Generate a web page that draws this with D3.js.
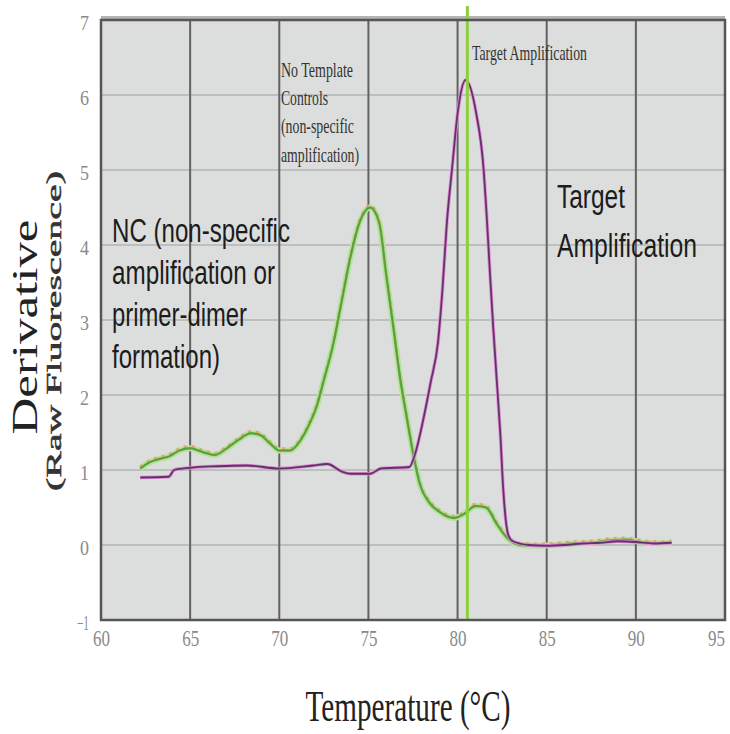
<!DOCTYPE html>
<html>
<head>
<meta charset="utf-8">
<script src="https://cdn.jsdelivr.net/npm/d3@7"></script>
<style>
  body { margin: 0; background: #ffffff; }
  svg  { display: block; }
  .serif { font-family: 'Liberation Serif', 'Times New Roman', serif; }
  .sans  { font-family: 'Liberation Sans', Arial, sans-serif; }
</style>
</head>
<body>
<div id="graph"></div>
<script>
//
// Data read off the melt curve picture...
//
var xTickValues = [60, 65, 70, 75, 80, 85, 90, 95];
var yTickValues = [-1, 0, 1, 2, 3, 4, 5, 6, 7];
var xGridValues = [65, 70, 75, 80, 85, 90];
var yGridValues = [0, 1, 2, 3, 4, 5, 6];
var markerTemp  = 80.55;

// No template controls (green traces)
var ntcTemp  = [62.2, 62.7, 63.3, 63.8, 64.4, 65.0, 65.7, 66.4, 67.0, 67.7,
                68.4, 68.9, 69.5, 70.0, 70.6, 71.2, 71.7, 72.1, 72.5, 73.0,
                73.5, 74.0, 74.5, 75.1, 75.6, 76.0, 76.4, 76.8, 77.15, 77.5,
                77.9, 78.4, 79.0, 79.8, 80.4, 81.0, 81.6, 82.2, 82.8, 83.5,
                84.5, 85.5, 86.5, 87.5, 88.5, 89.5, 90.5, 91.5, 92.0];
var ntcDeriv = [1.02, 1.10, 1.15, 1.18, 1.26, 1.29, 1.24, 1.20, 1.28, 1.40,
                1.49, 1.47, 1.35, 1.26, 1.26, 1.40, 1.62, 1.85, 2.20, 2.65,
                3.25, 3.85, 4.30, 4.50, 4.30, 3.60, 2.90, 2.19, 1.70, 1.23,
                0.80, 0.57, 0.44, 0.36, 0.42, 0.52, 0.50, 0.28, 0.09, 0.00,
                -0.01, 0.00, 0.02, 0.03, 0.06, 0.07, 0.03, 0.02, 0.03];

// Target amplification (purple traces)
var targetTemp  = [62.2, 63.8, 64.1, 65.0, 66.5, 68.2, 70.0, 71.9, 72.7, 73.5,
                   74.0, 75.1, 75.7, 77.3, 77.6, 78.1, 78.5, 78.9, 79.15, 79.4,
                   79.7, 80.0, 80.45, 81.05, 81.45, 81.65, 81.82, 82.0, 82.2, 82.4,
                   82.56, 82.85, 83.1, 84.0, 85.0, 86.0, 87.0, 88.0, 89.0, 90.0,
                   91.0, 92.0];
var targetDeriv = [0.90, 0.91, 1.00, 1.03, 1.05, 1.06, 1.02, 1.06, 1.08, 0.98,
                   0.95, 0.95, 1.02, 1.04, 1.20, 1.70, 2.18, 2.70, 3.40, 4.30,
                   5.04, 5.75, 6.20, 5.75, 5.04, 4.32, 3.61, 2.90, 2.19, 1.47,
                   0.75, 0.13, 0.05, 0.00, -0.01, 0.00, 0.02, 0.03, 0.05, 0.04,
                   0.02, 0.03];

var ntcLabel    = ['NC (non-specific', 'amplification or', 'primer-dimer', 'formation)'];
var targetLabel = ['Target', 'Amplification'];
var ntcNote     = ['No Template', 'Controls', '(non-specific', 'amplification)'];


function D3SVGApp ()
{
    var margin = { top: 20, right: 5, bottom: 114, left: 101 };
    var width  = 730 - margin.left - margin.right;
    var height = 734 - margin.top  - margin.bottom;

    var xScale = d3.scaleLinear ()
                   .domain ([60, 95])
                   .range ([0, width]);

    var yScale = d3.scaleLinear ()
                   .domain ([-1, 7])
                   .range ([height, 0]);

    var ntcData    = ntcTemp.map (function (t, i) { return { t: t, d: ntcDeriv[i] }; });
    var targetData = targetTemp.map (function (t, i) { return { t: t, d: targetDeriv[i] }; });

    var curve = d3.line ()
                  .x (function (d) { return xScale (d.t); })
                  .y (function (d) { return yScale (d.d); })
                  .curve (d3.curveMonotoneX);

    var svg = d3.select ('div#graph')
                .append ('svg')
                .attr ('width', 730)
                .attr ('height', 734)
                .append ('g')
                .attr ('transform', 'translate(' + margin.left + ',' + margin.top + ')');

    // plot background
    svg.append ('rect')
       .attr ('x', 0).attr ('y', -4)
       .attr ('width', width).attr ('height', 4)
       .attr ('fill', '#b4b4b4');

    svg.append ('rect')
       .attr ('width', width)
       .attr ('height', height)
       .attr ('fill', '#dcdedd');

    // grid lines
    svg.append ('g')
       .selectAll ('line')
       .data (yGridValues)
       .enter ()
       .append ('line')
       .attr ('x1', 0).attr ('x2', width)
       .attr ('y1', function (d) { return yScale (d); })
       .attr ('y2', function (d) { return yScale (d); })
       .attr ('stroke', '#b3b5b4')
       .attr ('stroke-width', 1.6);

    svg.append ('g')
       .selectAll ('line')
       .data (xGridValues)
       .enter ()
       .append ('line')
       .attr ('x1', function (d) { return xScale (d); })
       .attr ('x2', function (d) { return xScale (d); })
       .attr ('y1', 0).attr ('y2', height)
       .attr ('stroke', '#616161')
       .attr ('stroke-width', 2);

    // no template control traces
    svg.append ('path').datum (ntcData)
       .attr ('d', curve)
       .attr ('fill', 'none')
       .attr ('stroke', '#b3e49a')
       .attr ('stroke-width', 6);

    svg.append ('path').datum (ntcData)
       .attr ('d', curve)
       .attr ('fill', 'none')
       .attr ('stroke', '#e7a46c')
       .attr ('stroke-width', 2.5)
       .attr ('stroke-dasharray', '3,5')
       .attr ('transform', 'translate(0,-2)');

    svg.append ('path').datum (ntcData)
       .attr ('d', curve)
       .attr ('fill', 'none')
       .attr ('stroke', '#5aae48')
       .attr ('stroke-width', 2.4);

    svg.append ('path').datum (ntcData)
       .attr ('d', curve)
       .attr ('fill', 'none')
       .attr ('stroke', '#6f8f3e')
       .attr ('stroke-width', 1);

    // target traces
    svg.append ('path').datum (targetData)
       .attr ('d', curve)
       .attr ('fill', 'none')
       .attr ('stroke', '#e58bd6')
       .attr ('stroke-width', 3.5);

    svg.append ('path').datum (targetData)
       .attr ('d', curve)
       .attr ('fill', 'none')
       .attr ('stroke', '#5e3566')
       .attr ('stroke-width', 1.8);

    // green melt marker
    svg.append ('line')
       .attr ('x1', xScale (markerTemp)).attr ('x2', xScale (markerTemp))
       .attr ('y1', -14).attr ('y2', height)
       .attr ('stroke', '#8fcf3f')
       .attr ('stroke-width', 3);

    // frame
    svg.append ('rect')
       .attr ('width', width)
       .attr ('height', height)
       .attr ('fill', 'none')
       .attr ('stroke', '#555555')
       .attr ('stroke-width', 2.5);

    //
    // Axes...
    //
    var xAxis = d3.axisBottom (xScale)
                  .tickValues (xTickValues)
                  .tickSize (0)
                  .tickPadding (9);

    var yAxis = d3.axisLeft (yScale)
                  .tickValues (yTickValues)
                  .tickSize (0)
                  .tickPadding (12);

    var gx = svg.append ('g')
                .attr ('class', 'x axis')
                .attr ('transform', 'translate(0,' + height + ')')
                .call (xAxis);

    var gy = svg.append ('g')
                .attr ('class', 'y axis')
                .call (yAxis);

    gx.select ('.domain').remove ();
    gy.select ('.domain').remove ();

    gx.selectAll ('text')
      .attr ('class', 'serif')
      .attr ('fill', '#8a8a8a')
      .attr ('x', function (d) { return d === 95 ? -9 : 0; })
      .style ('font-size', '24px')
      .attr ('textLength', 17)
      .attr ('lengthAdjust', 'spacingAndGlyphs');

    gy.selectAll ('text')
      .attr ('class', 'serif')
      .attr ('fill', '#8a8a8a')
      .attr ('dy', '0.45em')
      .style ('font-size', '20px')
      .attr ('textLength', function (d) { return d < 0 ? 12 : 9; })
      .attr ('lengthAdjust', 'spacingAndGlyphs');

    //
    // Axis titles...
    //
    svg.append ('text')
       .attr ('class', 'serif')
       .attr ('text-anchor', 'middle')
       .attr ('transform', 'translate(' + (37 - margin.left) + ',' + (327 - margin.top) + ') rotate(-90)')
       .attr ('textLength', 215)
       .attr ('lengthAdjust', 'spacingAndGlyphs')
       .style ('font-size', '35px')
       .attr ('fill', '#222222')
       .text ('Derivative');

    svg.append ('text')
       .attr ('class', 'serif')
       .attr ('text-anchor', 'middle')
       .attr ('transform', 'translate(' + (61 - margin.left) + ',' + (331 - margin.top) + ') rotate(-90)')
       .attr ('textLength', 320)
       .attr ('lengthAdjust', 'spacingAndGlyphs')
       .style ('font-size', '22px')
       .attr ('fill', '#333333')
       .attr ('stroke', '#333333')
       .attr ('stroke-width', 0.5)
       .text ('(Raw Fluorescence)');

    svg.append ('text')
       .attr ('class', 'serif')
       .attr ('text-anchor', 'middle')
       .attr ('x', 408 - margin.left)
       .attr ('y', 721 - margin.top)
       .attr ('textLength', 205)
       .attr ('lengthAdjust', 'spacingAndGlyphs')
       .style ('font-size', '44px')
       .attr ('fill', '#222222')
       .text ('Temperature (\u00B0C)');

    //
    // Annotations...
    //
    var ntcWidths = [178, 163, 135, 108];
    var ntcBase   = [242, 284, 326, 368];

    for (var i = 0; i < ntcLabel.length; i++)
    {
        svg.append ('text')
           .attr ('class', 'sans')
           .attr ('x', 112 - margin.left)
           .attr ('y', ntcBase[i] - margin.top)
           .attr ('textLength', ntcWidths[i])
           .attr ('lengthAdjust', 'spacingAndGlyphs')
           .style ('font-size', '34px')
           .attr ('fill', '#1c1c1c')
           .text (ntcLabel[i]);
    }

    var targetWidths = [68, 140];
    var targetBase   = [208, 257];

    for (var i = 0; i < targetLabel.length; i++)
    {
        svg.append ('text')
           .attr ('class', 'sans')
           .attr ('x', 557 - margin.left)
           .attr ('y', targetBase[i] - margin.top)
           .attr ('textLength', targetWidths[i])
           .attr ('lengthAdjust', 'spacingAndGlyphs')
           .style ('font-size', '34px')
           .attr ('fill', '#1c1c1c')
           .text (targetLabel[i]);
    }

    var noteWidths = [72, 47, 73, 78];
    var noteBase   = [77, 105, 133, 162];

    for (var i = 0; i < ntcNote.length; i++)
    {
        svg.append ('text')
           .attr ('class', 'serif')
           .attr ('x', 281 - margin.left)
           .attr ('y', noteBase[i] - margin.top)
           .attr ('textLength', noteWidths[i])
           .attr ('lengthAdjust', 'spacingAndGlyphs')
           .style ('font-size', '21px')
           .attr ('fill', '#333333')
           .text (ntcNote[i]);
    }

    svg.append ('text')
       .attr ('class', 'serif')
       .attr ('x', 472 - margin.left)
       .attr ('y', 60 - margin.top)
       .attr ('textLength', 115)
       .attr ('lengthAdjust', 'spacingAndGlyphs')
       .style ('font-size', '21px')
       .attr ('fill', '#333333')
       .text ('Target Amplification');
}

D3SVGApp ();
</script>
</body>
</html>
